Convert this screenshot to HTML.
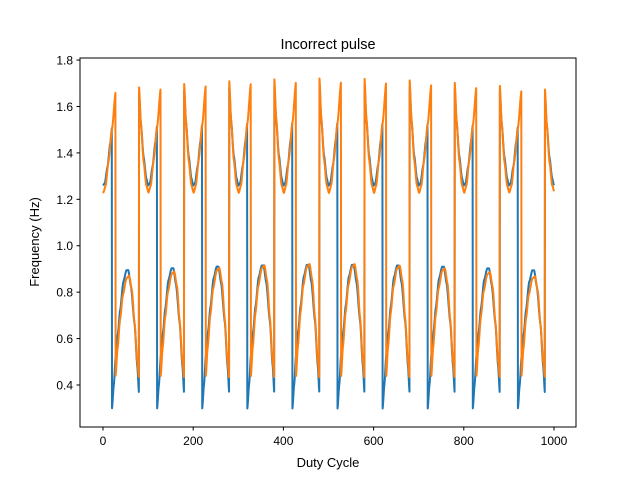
<!DOCTYPE html>
<html><head><meta charset="utf-8"><style>body{margin:0;background:#fff}svg text{font-family:"Liberation Sans","DejaVu Sans",sans-serif;fill:#000}</style></head>
<body>
<svg id="s" width="640" height="480" xmlns="http://www.w3.org/2000/svg">
<rect x="0" y="0" width="640" height="480" fill="#fff"/>
<g id="plot"></g>
<rect x="80" y="58" width="496" height="369" fill="none" stroke="#000" stroke-width="1"/>
<text x="328" y="49" font-size="14.5" text-anchor="middle">Incorrect pulse</text>
<text x="328" y="467" font-size="13" text-anchor="middle">Duty Cycle</text>
<text x="39" y="242" font-size="13" text-anchor="middle" transform="rotate(-90 39 242)">Frequency (Hz)</text>
<g id="ticks" font-size="12"></g>
</svg>
<script>
var NS="http://www.w3.org/2000/svg";
function X(v){return 103+v*0.451;}
function Y(v){return 385-(v-0.4)*232.1;}
function interp(pts,t){for(var i=0;i<pts.length-1;i++){if(t<=pts[i+1][0]){var a=pts[i],b=pts[i+1];var f=(t-a[0])/(b[0]-a[0]);f=(1-Math.cos(f*Math.PI))/2*0.5+f*0.5;return a[1]+(b[1]-a[1])*f;}}return pts[pts.length-1][1];}
var bU=[[80,1.65],[84,1.52],[90,1.38],[96,1.29],[100,1.26],[104,1.27],[110,1.34],[116,1.44],[120,1.51]];
var bL=[[20,0.30],[24,0.40],[28,0.52],[33,0.62],[38,0.72],[45,0.84],[52,0.89],[56,0.89],[62,0.82],[70,0.66],[76,0.48],[80,0.36]];
var oU=[[80,1.67],[84,1.52],[90,1.36],[96,1.26],[101,1.23],[106,1.26],[112,1.36],[120,1.50],[128,1.66]];
var oL=[[28,0.44],[32,0.55],[38,0.68],[44,0.78],[52,0.85],[58,0.86],[64,0.80],[70,0.66],[76,0.50],[80,0.43]];
function series(d,up,lo,color,uS,lS,umin,lmin){var p=[];for(var t=0;t<=1000;t+=0.5){var m=t%100,v,s=Math.sin(Math.PI*t/1000);
var isUp=false;
if(t===1000){v=interp(up,100);isUp=true;}else if(m<d){v=interp(up,m+100);isUp=true;}else if(m<80)v=interp(lo,m);else{v=interp(up,m);isUp=true;}
if(isUp)v=umin+(v-umin)*(1+uS*s);else v=lmin+(v-lmin)*(1+lS*s);
p.push(X(t).toFixed(2)+","+Y(v).toFixed(2));}
var pl=document.createElementNS(NS,"polyline");pl.setAttribute("points",p.join(" "));pl.setAttribute("fill","none");pl.setAttribute("stroke",color);pl.setAttribute("stroke-width","2");pl.setAttribute("stroke-linejoin","round");document.getElementById("plot").appendChild(pl);}
series(20,bU,bL,"#1f77b4",0.1,0.05,1.27,0.33);
series(28,oU,oL,"#ff7f0e",0.12,0.15,1.25,0.45);
var g=document.getElementById("ticks");
for(var v=0;v<=1000;v+=200){var x=X(v);var l=document.createElementNS(NS,"line");l.setAttribute("x1",x);l.setAttribute("x2",x);l.setAttribute("y1",427);l.setAttribute("y2",430.5);l.setAttribute("stroke","#000");g.appendChild(l);var t=document.createElementNS(NS,"text");t.setAttribute("x",x);t.setAttribute("y",445);t.setAttribute("text-anchor","middle");t.textContent=v;g.appendChild(t);}
for(var i=0;i<=7;i++){var v=0.4+i*0.2;var y=Y(v);var l=document.createElementNS(NS,"line");l.setAttribute("x1",76.5);l.setAttribute("x2",80);l.setAttribute("y1",y);l.setAttribute("y2",y);l.setAttribute("stroke","#000");g.appendChild(l);var t=document.createElementNS(NS,"text");t.setAttribute("x",73);t.setAttribute("y",y+4.5);t.setAttribute("text-anchor","end");t.textContent=v.toFixed(1);g.appendChild(t);}
</script>
</body></html>
